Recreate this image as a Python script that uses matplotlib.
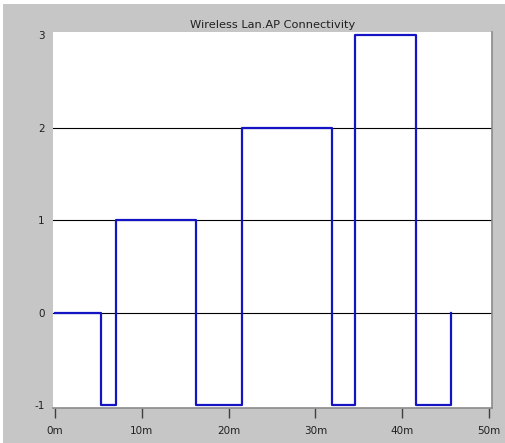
import matplotlib
matplotlib.use("Agg")
import matplotlib.pyplot as plt
from matplotlib.patches import Rectangle

title = "Wireless Lan.AP Connectivity"
times_min = [0, 5.3, 7.05, 16.25, 21.5, 31.95, 34.6, 41.6, 45.65]
values = [0, -1, 1, -1, 2, -1, 3, -1, 0]
x_ticks = [0, 10, 20, 30, 40, 50]
x_tick_labels = ["0m", "10m", "20m", "30m", "40m", "50m"]
y_ticks = [-1, 0, 1, 2, 3]
y_tick_labels = ["-1", "0", "1", "2", "3"]
grid_levels = [0, 1, 2]

W, H = 506, 443
fig = plt.figure(figsize=(W / 100, H / 100), dpi=100)
fig.patch.set_facecolor("white")
bg = "#c6c6c6"
fig.patches.append(Rectangle((3 / W, 0), 1, 1 - 4 / H, transform=fig.transFigure,
                             facecolor=bg, edgecolor="none", zorder=-10))

ax = fig.add_axes([53 / W, 35 / H, 439 / W, 376 / H])
ax.set_facecolor("white")
for lvl in grid_levels:
    ax.axhline(lvl, color="black", lw=0.8, zorder=1)
ax.plot(times_min, values, drawstyle="steps-post", color="#1414c4", lw=1.6, zorder=3)

ax.set_xlim(-0.23, 50.35)
ax.set_ylim(-1.03, 3.035)
ax.set_xticks(x_ticks)
ax.set_xticklabels(x_tick_labels)
ax.set_yticks(y_ticks)
ax.set_yticklabels(y_tick_labels)
ax.tick_params(axis="x", length=7, width=1, color="#404040", pad=6,
               labelsize=7.5, labelcolor="#202020")
ax.tick_params(axis="y", length=0, pad=6, labelsize=7.5, labelcolor="#202020")

for s in ["left", "top"]:
    ax.spines[s].set_visible(False)
for s in ["right", "bottom"]:
    ax.spines[s].set_color("#8a8a8a")
    ax.spines[s].set_linewidth(1.2)

ax.set_title(title, fontsize=8.2, color="#202020", pad=3)

fig.savefig("out.png", dpi=100, facecolor=fig.get_facecolor())
